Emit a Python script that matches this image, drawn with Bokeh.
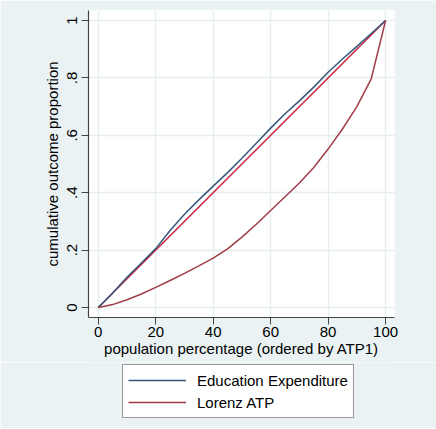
from bokeh.plotting import figure
from bokeh.models import FixedTicker, Legend, LegendItem, Range1d
from bokeh.layouts import column
from bokeh.embed import file_html
from bokeh.resources import INLINE

# Data
pop_pct = [0, 5, 10, 15, 20, 25, 30, 35, 40, 45, 50, 55, 60, 65, 70, 75, 80, 85, 90, 95, 100]
education_expenditure = [0, 0.05, 0.105, 0.155, 0.205, 0.268, 0.325, 0.375, 0.423, 0.47, 0.52,
                         0.572, 0.625, 0.675, 0.72, 0.768, 0.82, 0.866, 0.91, 0.955, 1.0]
lorenz_atp = [0, 0.01, 0.027, 0.047, 0.07, 0.094, 0.119, 0.145, 0.172, 0.204, 0.245,
              0.29, 0.338, 0.386, 0.434, 0.488, 0.552, 0.622, 0.70, 0.797, 1.0]
equality_x = [0, 100]
equality_y = [0, 1]

x_ticks = [0, 20, 40, 60, 80, 100]
y_ticks = [0, 0.2, 0.4, 0.6, 0.8, 1.0]
y_tick_labels = ["0", ".2", ".4", ".6", ".8", "1"]
series_names = ["Education Expenditure", "Lorenz ATP"]

FONT = "Liberation Sans"
BG = "#eaf2f3"
C_EDU = "#34587a"
C_LOR = "#a03c46"
C_EQ = "#c4243f"

W = 436
p = figure(width=W, height=362, output_backend="svg", toolbar_location=None,
           x_range=Range1d(-3.4, 103.1), y_range=Range1d(-0.035, 1.035),
           min_border_left=88, min_border_right=42, min_border_top=10, min_border_bottom=45)
p.background_fill_color = "white"
p.border_fill_color = BG
p.outline_line_color = None

p.line(equality_x, equality_y, line_color=C_EQ, line_width=1.5)
p.line(pop_pct, education_expenditure, line_color=C_EDU, line_width=1.5)
p.line(pop_pct, lorenz_atp, line_color=C_LOR, line_width=1.5)

for ax in (p.xaxis[0], p.yaxis[0]):
    ax.axis_line_color = "#444444"
    ax.axis_line_width = 1.2
    ax.major_tick_line_color = "#444444"
    ax.major_tick_out = 7
    ax.major_tick_in = 0
    ax.minor_tick_line_color = None
    ax.major_label_text_font = FONT
    ax.major_label_text_font_size = "15px"
    ax.major_label_text_color = "black"
    ax.axis_label_text_font = FONT
    ax.axis_label_text_font_size = "15px"
    ax.axis_label_text_font_style = "normal"
    ax.axis_label_text_color = "black"

p.xaxis.ticker = FixedTicker(ticks=x_ticks)
p.yaxis.ticker = FixedTicker(ticks=y_ticks)
p.yaxis.major_label_overrides = {t: l for t, l in zip(y_ticks, y_tick_labels)}
p.yaxis.major_label_orientation = "vertical"
p.xaxis.axis_label = "population percentage (ordered by ATP1)"
p.yaxis.axis_label = "cumulative outcome proportion"
p.xaxis.major_label_standoff = 2
p.xaxis.axis_label_standoff = 0
p.yaxis.major_label_standoff = 4
p.yaxis.axis_label_standoff = 4

p.grid.grid_line_color = "#e6eef0"
p.grid.grid_line_width = 1.5

# Legend panel below the chart (its frame is aligned with the main frame)
pl = figure(width=W, height=66, output_backend="svg", toolbar_location=None,
            x_range=Range1d(200, 201), y_range=Range1d(5, 6),
            x_axis_location=None, y_axis_location=None,
            min_border_left=88, min_border_right=42, min_border_top=0, min_border_bottom=0)
pl.background_fill_color = BG
pl.border_fill_color = BG
pl.outline_line_color = None
pl.grid.visible = False
r_edu = pl.line(pop_pct, education_expenditure, line_color=C_EDU, line_width=1.5)
r_lor = pl.line(pop_pct, lorenz_atp, line_color=C_LOR, line_width=1.5)

legend = Legend(items=[LegendItem(label=series_names[0], renderers=[r_edu]),
                       LegendItem(label=series_names[1], renderers=[r_lor])],
                location=(34, 10), orientation="vertical")
legend.label_text_font = FONT
legend.label_text_font_size = "15px"
legend.label_text_color = "black"
legend.glyph_width = 58
legend.glyph_height = 20
legend.label_height = 20
legend.label_standoff = 11
legend.spacing = 2
legend.padding = 5
legend.margin = 0
legend.border_line_color = "#333333"
legend.border_line_width = 1
legend.background_fill_color = "white"
legend.background_fill_alpha = 1.0
pl.add_layout(legend, "center")

layout = column(p, pl)

open("out.html", "w").write(file_html(layout, INLINE))
